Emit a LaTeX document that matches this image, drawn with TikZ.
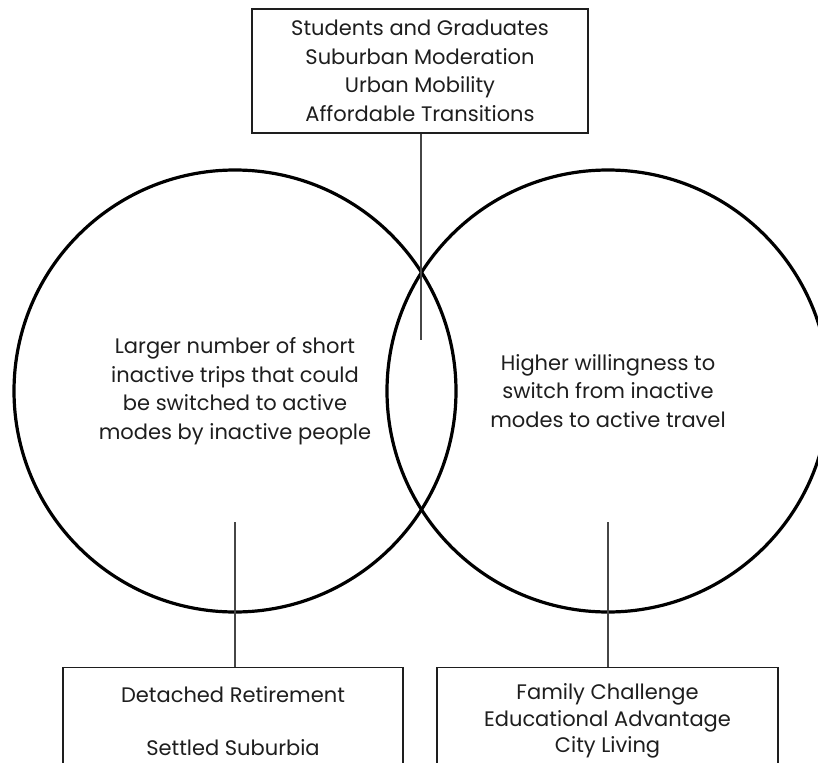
\documentclass[tikz,border=0pt]{standalone}
\usepackage{fontspec}
\setmainfont{Poppins}
\usetikzlibrary{positioning}
\definecolor{ink}{RGB}{30,30,30}
\definecolor{wire}{RGB}{70,70,70}
\tikzset{
  set/.style={circle,draw=black,line width=3.2pt,minimum size=442pt,inner sep=0pt,
    align=center,text=ink,font=\fontsize{21}{28.5}\selectfont},
  group box/.style={draw=ink,line width=1.1pt,align=center,text=ink,inner sep=0pt,
    font=\fontsize{21}{#1}\selectfont},
  group box/.default=26.5,
  link/.style={draw=wire,line width=1.4pt},
}
\begin{document}
\begin{tikzpicture}[x=1pt,y=1pt]
  \clip (0,0) rectangle (818,-762);
  \fill[white] (0,0) rectangle (818,-762);
  % the two sets
  \node[set] (inactive) at (235,-391) {Larger number of short\\inactive trips that could\\be switched to active\\modes by inactive people};
  \node[set] (willing) at (608,-391) {Higher willingness to\\switch from inactive\\modes to active travel};
  % groups
  \node[group box=28.5,minimum width=336pt,minimum height=124pt] (both) at (420,-71) {Students and Graduates\\Suburban Moderation\\Urban Mobility\\Affordable Transitions};
  \node[group box,minimum width=340pt,minimum height=107pt,anchor=north] (left) at (233,-667) {Detached Retirement\\ \\Settled Suburbia};
  \node[group box,minimum width=341pt,minimum height=107pt,anchor=north] (right) at (607.5,-667) {Family Challenge\\Educational Advantage\\City Living};
  % pointers
  \coordinate (mid) at (421,-340);
  \coordinate (lfoot) at (235,-522);
  \coordinate (rfoot) at (608,-522);
  \draw[link] (both.south -| mid) -- (mid);
  \draw[link] (lfoot) -- (lfoot |- left.north);
  \draw[link] (rfoot) -- (rfoot |- right.north);
\end{tikzpicture}
\end{document}
